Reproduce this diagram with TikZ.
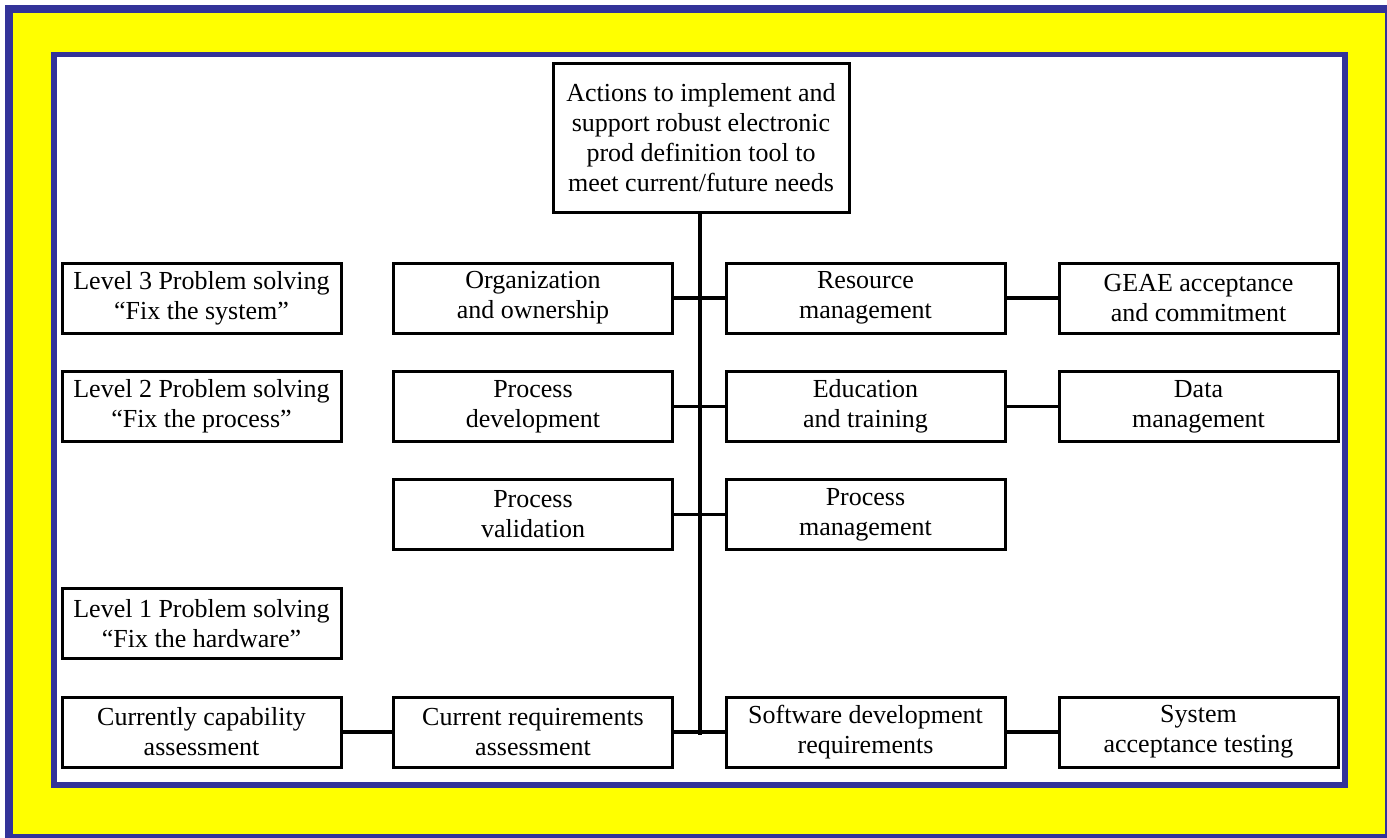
\documentclass[tikz,border=0pt]{standalone}
\usepackage{fontspec}
\setmainfont{Liberation Serif}
\definecolor{frameblue}{HTML}{333399}
\definecolor{frameyellow}{HTML}{FFFF00}
\begin{document}
\begin{tikzpicture}[x=1pt,y=-1pt,
  box/.style={draw=black, line width=3pt, fill=white, align=center, inner sep=0pt,
    minimum width=279pt, minimum height=70pt, font=\fontsize{26}{30}\selectfont},
  conn/.style={draw=black, line width=3.5pt}]
\useasboundingbox (0,0) rectangle (1387,838);
\fill[white] (0,0) rectangle (1387,838);
\fill[frameblue] (5,5) rectangle (1387,838);
\fill[frameyellow] (13,13) rectangle (1385,834);
\fill[frameblue] (51,52) rectangle (1348,788);
\fill[white] (57,57) rectangle (1342,782);

\node[box, minimum width=296pt, minimum height=149pt] (top) at (701,137.5)
  {Actions to implement and\\support robust electronic\\prod definition tool to\\meet current/future needs};

\node[box] (a1) at (201.5,298) {Level 3 Problem solving\\``Fix the system''};
\node[box] (b1) at (533,298) {Organization\\and ownership};
\node[box] (c1) at (865.5,298) {Resource\\management};
\node[box] (d1) at (1198.5,298) {GEAE acceptance\\and commitment};

\node[box] (a2) at (201.5,406.5) {Level 2 Problem solving\\``Fix the process''};
\node[box] (b2) at (533,406.5) {Process\\development};
\node[box] (c2) at (865.5,406.5) {Education\\and training};
\node[box] (d2) at (1198.5,406.5) {Data\\management};

\node[box] (b3) at (533,514.5) {Process\\validation};
\node[box] (c3) at (865.5,514.5) {Process\\management};

\node[box] (a4) at (201.5,623.5) {Level 1 Problem solving\\``Fix the hardware''};

\node[box] (a5) at (201.5,732) {Currently capability\\assessment};
\node[box] (b5) at (533,732) {Current requirements\\assessment};
\node[box] (c5) at (865.5,732) {Software development\\requirements};
\node[box] (d5) at (1198.5,732) {System\\acceptance testing};

\coordinate (vend) at (700,735);
\draw[conn] (top.south -| vend) -- (vend);
\draw[conn] (b1.east) -- (c1.west);
\draw[conn] (c1.east) -- (d1.west);
\draw[conn] (b2.east) -- (c2.west);
\draw[conn] (c2.east) -- (d2.west);
\draw[conn] (b3.east) -- (c3.west);
\draw[conn] (a5.east) -- (b5.west);
\draw[conn] (b5.east) -- (c5.west);
\draw[conn] (c5.east) -- (d5.west);
\end{tikzpicture}
\end{document}
